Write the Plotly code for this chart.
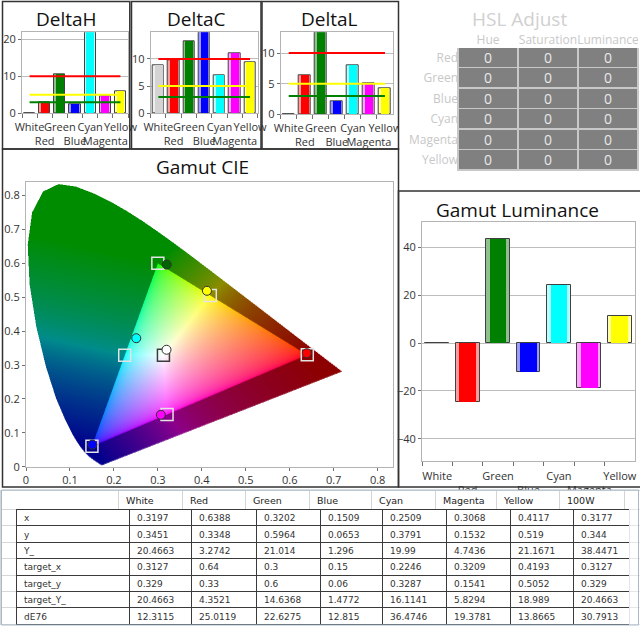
import base64
import struct
import zlib

import numpy as np
import plotly.graph_objects as go

FIG_W, FIG_H = 640, 626


def px(x):
    return x / FIG_W


def py(y):
    return 1 - y / FIG_H


# ---------------- data ----------------
categories = ['White', 'Red', 'Green', 'Blue', 'Cyan', 'Magenta', 'Yellow']
bar_colors = ['#d3d3d3', '#ff0000', '#008000', '#0000ff', '#00ffff', '#ff00ff', '#ffff00']
bar_tints = ['#eeeeee', '#ff9c9c', '#90bf90', '#9c9cff', '#b4ffff', '#ffa4ff', '#ffffaa']

delta_h = [0, 3.0, 10.5, 2.4, 21.9, 4.6, 6.0]
delta_c = [8.9, 9.7, 13.3, 14.9, 6.9, 11.1, 9.4]
delta_l = [0, 6.3, 13.4, 2.2, 8.0, 5.1, 4.3]
thresholds = [10, 5, 3]
threshold_colors = ['#ff0000', '#ffff00', '#008000']
gamut_lum = [0, -24.8, 43.6, -12.3, 24.1, -18.6, 11.5]

table_cols = ['White', 'Red', 'Green', 'Blue', 'Cyan', 'Magenta', 'Yellow', '100W']
row_names = ['x', 'y', 'Y_', 'target_x', 'target_y', 'target_Y_', 'dE76']
meas_x = [0.3197, 0.6388, 0.3202, 0.1509, 0.2509, 0.3068, 0.4117, 0.3177]
meas_y = [0.3451, 0.3348, 0.5964, 0.0653, 0.3791, 0.1532, 0.519, 0.344]
meas_Y = [20.4663, 3.2742, 21.014, 1.296, 19.99, 4.7436, 21.1671, 38.4471]
target_x = [0.3127, 0.64, 0.3, 0.15, 0.2246, 0.3209, 0.4193, 0.3127]
target_y = [0.329, 0.33, 0.6, 0.06, 0.3287, 0.1541, 0.5052, 0.329]
target_Y = [20.4663, 4.3521, 14.6368, 1.4772, 16.1141, 5.8294, 18.989, 20.4663]
dE76 = [12.3115, 25.0119, 22.6275, 12.815, 36.4746, 19.3781, 13.8665, 30.7913]

meas_marker_colors = ['#ffffff', '#ff0000', '#006400', '#0000ff', '#00ffff', '#ff00ff', '#ffff00']
target_marker_colors = ['#3c3c3c', '#e4e4e4', '#e4e4e4', '#e4e4e4', '#e4e4e4', '#e4e4e4', '#e4e4e4']

hsl_rows = ['Red', 'Green', 'Blue', 'Cyan', 'Magenta', 'Yellow']
hsl_cols = ['Hue', 'Saturation', 'Luminance']
hsl_hue = [0, 0, 0, 0, 0, 0]
hsl_sat = [0, 0, 0, 0, 0, 0]
hsl_lum = [0, 0, 0, 0, 0, 0]

# CIE 1931 spectral locus (400-640 nm, 5 nm)
locus_x = [0.1733, 0.1730, 0.1726, 0.1721, 0.1714, 0.1703, 0.1689, 0.1669, 0.1644, 0.1611,
           0.1566, 0.1510, 0.1440, 0.1355, 0.1241, 0.1096, 0.0913, 0.0687, 0.0454, 0.0235,
           0.0082, 0.0039, 0.0139, 0.0389, 0.0743, 0.1142, 0.1547, 0.1929, 0.2296, 0.2658,
           0.3016, 0.3373, 0.3731, 0.4087, 0.4441, 0.4788, 0.5125, 0.5448, 0.5752, 0.6029,
           0.6270, 0.6482, 0.6658, 0.6801, 0.6915, 0.7006, 0.7079, 0.7140, 0.7190]
locus_y = [0.0048, 0.0048, 0.0048, 0.0048, 0.0051, 0.0058, 0.0069, 0.0086, 0.0109, 0.0138,
           0.0177, 0.0227, 0.0297, 0.0399, 0.0578, 0.0868, 0.1327, 0.2007, 0.2950, 0.4127,
           0.5384, 0.6548, 0.7502, 0.8120, 0.8338, 0.8262, 0.8059, 0.7816, 0.7543, 0.7243,
           0.6923, 0.6589, 0.6245, 0.5896, 0.5547, 0.5202, 0.4866, 0.4544, 0.4242, 0.3965,
           0.3725, 0.3514, 0.3340, 0.3197, 0.3083, 0.2993, 0.2920, 0.2859, 0.2809]

CIE_XR = [0, 0.835]
CIE_YR = [0, 0.84]

# ---------------- CIE background image ----------------
IW, IH = 734, 570
gx = (np.arange(IW) + 0.5) / IW * CIE_XR[1]
gy = CIE_YR[1] - (np.arange(IH) + 0.5) / IH * CIE_YR[1]
GX, GY = np.meshgrid(gx, gy)

poly = np.column_stack([locus_x, locus_y])
inside_locus = np.zeros(GX.shape, dtype=bool)
n = len(poly)
with np.errstate(divide='ignore', invalid='ignore'):
    for i in range(n):
        x1, y1 = poly[i]
        x2, y2 = poly[(i + 1) % n]
        if y1 == y2:
            continue
        cond = (y1 > GY) != (y2 > GY)
        xint = (x2 - x1) * (GY - y1) / (y2 - y1) + x1
        inside_locus ^= cond & (GX < xint)

R = np.array([target_x[1], target_y[1]])
G = np.array([target_x[2], target_y[2]])
B = np.array([target_x[3], target_y[3]])


def cross(ax, ay, bx, by, cx, cy):
    return (bx - ax) * (cy - ay) - (by - ay) * (cx - ax)


c1 = cross(R[0], R[1], G[0], G[1], GX, GY)
c2 = cross(G[0], G[1], B[0], B[1], GX, GY)
c3 = cross(B[0], B[1], R[0], R[1], GX, GY)
in_tri = ((c1 >= 0) & (c2 >= 0) & (c3 >= 0)) | ((c1 <= 0) & (c2 <= 0) & (c3 <= 0))

best_d = np.full(GX.shape, np.inf)
QX = np.zeros(GX.shape)
QY = np.zeros(GX.shape)
for a, b in [(R, G), (G, B), (B, R)]:
    ab = b - a
    t = ((GX - a[0]) * ab[0] + (GY - a[1]) * ab[1]) / (ab @ ab)
    t = np.clip(t, 0, 1)
    qx = a[0] + t * ab[0]
    qy = a[1] + t * ab[1]
    d = (GX - qx) ** 2 + (GY - qy) ** 2
    m = d < best_d
    best_d[m] = d[m]
    QX[m] = qx[m]
    QY[m] = qy[m]


def xy_to_rgb(x, y, gamma):
    Xc = x / y
    Zc = (1 - x - y) / y
    r = 3.2406 * Xc - 1.5372 - 0.4986 * Zc
    g = -0.9689 * Xc + 1.8758 + 0.0415 * Zc
    b = 0.0557 * Xc - 0.2040 + 1.0570 * Zc
    rgb = np.clip(np.stack([r, g, b], axis=-1), 0, None)
    mx = rgb.max(axis=-1, keepdims=True)
    rgb = rgb / np.where(mx > 0, mx, 1)
    if gamma:
        return np.where(rgb <= 0.0031308, 12.92 * rgb, 1.055 * np.power(rgb, 1 / 2.4) - 0.055)
    return np.power(rgb, 1 / 1.3)


col_in = xy_to_rgb(GX, GY, True)
col_out = xy_to_rgb(QX, QY, False) * 0.55
col = np.where(in_tri[..., None], col_in, col_out)
rgba = np.zeros((IH, IW, 4), dtype=np.uint8)
rgba[..., :3] = np.clip(col * 255, 0, 255).astype(np.uint8)
rgba[..., 3] = np.where(inside_locus, 255, 0).astype(np.uint8)


def png_uri(arr):
    h, w, _ = arr.shape
    raw = b''.join(b'\x00' + arr[j].tobytes() for j in range(h))

    def chunk(tag, data):
        return (struct.pack('>I', len(data)) + tag + data +
                struct.pack('>I', zlib.crc32(tag + data) & 0xffffffff))

    png = (b'\x89PNG\r\n\x1a\n' +
           chunk(b'IHDR', struct.pack('>IIBBBBB', w, h, 8, 6, 0, 0, 0)) +
           chunk(b'IDAT', zlib.compress(raw, 9)) + chunk(b'IEND', b''))
    return 'data:image/png;base64,' + base64.b64encode(png).decode()


# ---------------- figure ----------------
fig = go.Figure()
TICK_FONT = dict(family='Open Sans', size=11, color='#333333')
AX_LINE = '#b4b4b4'
labels = [c if i % 2 == 0 else '<br>' + c for i, c in enumerate(categories)]


def add_bars(k, values, lines=True, bar_w=0.74):
    xa, ya = 'x%d' % k, 'y%d' % k
    fig.add_trace(go.Bar(x=labels, y=values, width=bar_w, xaxis=xa, yaxis=ya,
                         marker=dict(color=bar_tints, line=dict(color='#404040', width=1)),
                         hoverinfo='skip'))
    fig.add_trace(go.Bar(x=labels, y=values, width=bar_w * 0.7, xaxis=xa, yaxis=ya,
                         marker=dict(color=bar_colors, line=dict(width=0)), hoverinfo='skip'))
    if lines:
        for t, c in zip(thresholds, threshold_colors):
            fig.add_trace(go.Scatter(x=[labels[0], labels[-1]], y=[t, t], mode='lines',
                                     xaxis=xa, yaxis=ya, line=dict(color=c, width=2),
                                     hoverinfo='skip'))


def bar_axes(k, xd, yd, yrange, dtick, standoff):
    xs = 'xaxis' if k == 1 else 'xaxis%d' % k
    ys = 'yaxis' if k == 1 else 'yaxis%d' % k
    fig.layout[xs] = dict(domain=[px(xd[0]), px(xd[1])], anchor='y%d' % k, type='category',
                          categoryorder='array', categoryarray=labels, tickmode='linear',
                          tick0=0, dtick=1, tickson='boundaries', ticks='outside', ticklen=4,
                          tickcolor='#707070', showline=True, linecolor=AX_LINE, mirror=True,
                          showgrid=False, tickangle=0, tickfont=TICK_FONT, fixedrange=True,
                          automargin=False, ticklabelstandoff=standoff)
    fig.layout[ys] = dict(domain=[py(yd[0]), py(yd[1])], anchor='x%d' % k, range=yrange,
                          dtick=dtick, ticks='outside', ticklen=3, tickcolor='#707070',
                          showline=True, linecolor=AX_LINE, mirror=True, showgrid=True,
                          gridcolor='#bdbdbd', zeroline=False, tickfont=TICK_FONT,
                          fixedrange=True, automargin=False)


add_bars(1, delta_h)
add_bars(2, delta_c)
add_bars(3, delta_l)
bar_axes(1, (22, 128), (113.3, 32.3), [0, max(delta_h)], 10, 3)
bar_axes(2, (150.7, 257.7), (113.3, 32.3), [0, max(delta_c)], 5, 3)
bar_axes(3, (280.7, 393), (114.3, 32.3), [0, max(delta_l)], 5, 3)

# Gamut CIE
fig.add_trace(go.Scatter(x=target_x[:7], y=target_y[:7], mode='markers', xaxis='x4', yaxis='y4',
                         marker=dict(symbol='square-open', size=12, color=target_marker_colors,
                                     line=dict(width=1.5)), hoverinfo='skip'))
fig.add_trace(go.Scatter(x=meas_x[:7], y=meas_y[:7], mode='markers', xaxis='x4', yaxis='y4',
                         marker=dict(symbol='circle', size=9, color=meas_marker_colors,
                                     line=dict(color='#303030', width=1)), hoverinfo='skip'))
fig.layout['xaxis4'] = dict(domain=[px(26), px(393)], anchor='y4', range=CIE_XR, dtick=0.1,
                            ticks='outside', ticklen=3, tickcolor='#707070', showline=True,
                            linecolor=AX_LINE, mirror=True, showgrid=False, zeroline=False,
                            tickfont=TICK_FONT, fixedrange=True, automargin=False)
fig.layout['yaxis4'] = dict(domain=[py(466.7), py(182)], anchor='x4', range=CIE_YR, dtick=0.1,
                            ticks='outside', ticklen=3, tickcolor='#707070', showline=True,
                            linecolor=AX_LINE, mirror=True, showgrid=False, zeroline=False,
                            tickfont=TICK_FONT, fixedrange=True, automargin=False)
fig.add_layout_image(dict(source=png_uri(rgba), xref='x4', yref='y4', x=CIE_XR[0], y=CIE_YR[1],
                          sizex=CIE_XR[1] - CIE_XR[0], sizey=CIE_YR[1] - CIE_YR[0],
                          sizing='stretch', xanchor='left', yanchor='top', layer='below'))

# Gamut Luminance
add_bars(5, gamut_lum, lines=False, bar_w=0.78)
bar_axes(5, (422, 635), (460.7, 222), [-49.2, 50.6], 20, 5)

# ---------------- tables ----------------
CLEAR = 'rgba(0,0,0,0)'


def blank(vals):
    return [[''] * len(v) if isinstance(v, list) else '' for v in vals]


def add_table(x0, x1, top, bottom, widths, h_vals, h_height, h_fill, h_line, h_font, h_align,
              c_vals, c_height, c_fill, c_line, c_font, c_align, shift, line_w=1):
    # grid and fills (no text)
    fig.add_trace(go.Table(
        domain=dict(x=[px(x0), px(x1)], y=[py(bottom), py(top)]), columnwidth=widths,
        header=dict(values=blank(h_vals), height=h_height, fill=dict(color=h_fill),
                    line=dict(color=h_line, width=line_w), font=h_font),
        cells=dict(values=blank(c_vals), height=c_height, fill=dict(color=c_fill),
                   line=dict(color=c_line, width=line_w), font=c_font)))
    # text layer, nudged up so the text is centred in its row
    fig.add_trace(go.Table(
        domain=dict(x=[px(x0), px(x1)], y=[py(bottom - shift), py(top - shift)]),
        columnwidth=widths,
        header=dict(values=h_vals, height=h_height, fill=dict(color=CLEAR),
                    line=dict(color=CLEAR, width=0), font=h_font, align=h_align),
        cells=dict(values=c_vals, height=c_height, fill=dict(color=CLEAR),
                   line=dict(color=CLEAR, width=0), font=c_font, align=c_align)))


data_rows = [meas_x, meas_y, meas_Y, target_x, target_y, target_Y, dE76]
columns = [[''] * len(row_names), row_names]
for j in range(len(table_cols)):
    columns.append([str(r[j]) for r in data_rows])
columns.append([''] * len(row_names))
line_cols = ['#d6d6d6', '#3a3a3a'] + ['#3a3a3a'] * len(table_cols) + ['#e6e6e6']
TABLE_FONT = dict(family='DejaVu Sans', size=9, color='#333333')
HEAD_FONT = dict(family='DejaVu Sans', size=9.5, color='#222222')

# column-name header row
add_table(0, 640, 490.5, 510, [118, 64, 63, 64, 62, 64, 61, 63, 65, 16],
          [''] + table_cols + [''], 19, 'white', '#d4d4d4', HEAD_FONT, 'left',
          [], 16, 'white', '#d4d4d4', HEAD_FONT, 'left', 2)
# data rows (first data row carried in the header slot)
add_table(0, 640, 509.5, 625.8, [16, 113, 62, 65, 64, 62, 64, 64, 63, 56, 11],
          [c[0] for c in columns], 16.4, 'white', line_cols, TABLE_FONT, 'left',
          [c[1:] for c in columns], 16.4, 'white', line_cols, TABLE_FONT, 'left', 3)

# HSL Adjust
HSL_FONT = dict(family='Open Sans', size=12, color='#c8c8c8')
VAL_FONT = dict(family='Open Sans', size=14, color='#e8e8e8')
add_table(398, 466, 30, 180, [1], [''], 17, 'white', 'white', HSL_FONT, 'right',
          [hsl_rows], 20.5, 'white', 'white', HSL_FONT, 'right', 2.5)
add_table(458, 638, 30, 180, [1, 1, 1], hsl_cols, 17, 'white', 'white', HSL_FONT, 'center',
          [hsl_hue, hsl_sat, hsl_lum], 20.5, '#808080', '#c8c8c8', VAL_FONT, 'center', 3,
          line_w=1.5)

# ---------------- titles & panel borders ----------------
titles = [('DeltaH', 66, 19, '#111111'), ('DeltaC', 196.5, 19, '#111111'),
          ('DeltaL', 329, 19, '#111111'), ('HSL Adjust', 519, 19, '#d0d0d0'),
          ('Gamut CIE', 202, 167, '#111111'), ('Gamut Luminance', 517, 210, '#111111')]
for text, cx, cy, color in titles:
    fig.add_annotation(text=text, x=px(cx), y=py(cy), xref='paper', yref='paper',
                       showarrow=False, xanchor='center', yanchor='middle',
                       font=dict(family='Open Sans', size=19, color=color))

panels = [(2.5, 1.5, 129.8, 149), (131.5, 1.5, 261, 149), (262, 1.5, 398.5, 149),
          (2.5, 149, 398.5, 487), (398.5, 191, 641, 487)]
for x0, y0, x1, y1 in panels:
    fig.add_shape(type='rect', xref='paper', yref='paper', x0=px(x0), y0=py(y0),
                  x1=px(x1), y1=py(y1), line=dict(color='#333333', width=1.5))
fig.add_shape(type='rect', xref='paper', yref='paper', x0=px(1.5), y0=py(625), x1=px(638.5),
              y1=py(490), line=dict(color='#a9b9c9', width=1))

fig.update_layout(width=FIG_W, height=FIG_H, margin=dict(l=0, r=0, t=0, b=0, autoexpand=False),
                  paper_bgcolor='white', plot_bgcolor='white', showlegend=False,
                  barmode='overlay', bargap=0, font=dict(family='Open Sans'))

fig.write_html('out.html', config={'displayModeBar': False},
               post_script="document.body.style.margin='0px';"
                           "document.body.style.overflow='hidden';")
